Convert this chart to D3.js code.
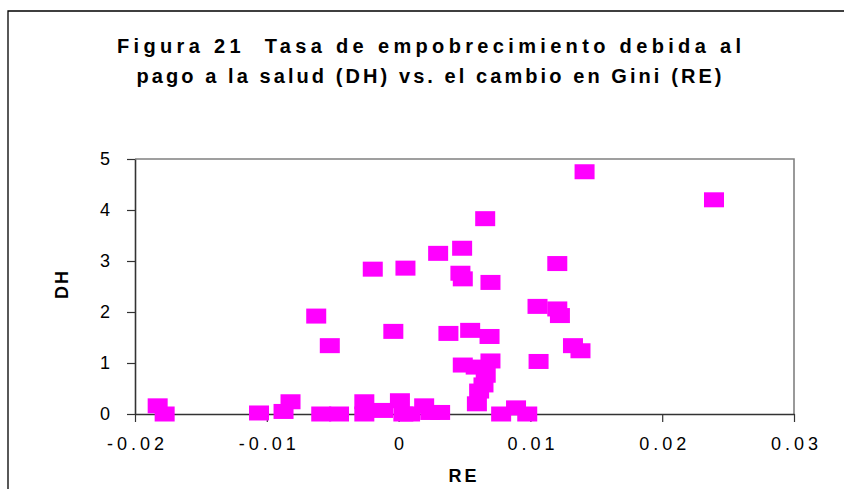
<!DOCTYPE html>
<html>
<head>
<meta charset="utf-8">
<script src="https://cdn.jsdelivr.net/npm/d3@7"></script>
<style>
	body { margin: 0; background: #fff; }
	svg { display: block; font-family: "Liberation Sans", Arial, sans-serif; }
</style>
</head>
<body>
<div id="chart"></div>
<script>
// RE (cambio en Gini) and DH (tasa de empobrecimiento)
let reValues = [
	-0.01828, -0.01775, -0.01059, -0.00873, -0.0082, -0.00625, -0.00522, -0.00587,
	-0.00452, -0.0026, -0.0026, -0.00196, -0.00118, -0.0004, 0.0001, 0.00036,
	0.00087, 0.00052, 0.00194, 0.0024, 0.00315, 0.003, 0.00378, 0.00482,
	0.00469, 0.00487, 0.00657, 0.00697, 0.00543, 0.0069, 0.00487, 0.00697,
	0.00585, 0.00661, 0.00644, 0.00611, 0.00594, 0.00778, 0.00891, 0.00976,
	0.01204, 0.01054, 0.01204, 0.01224, 0.01323, 0.0138, 0.01062, 0.01411, 0.02393
];
let dhValues = [
	0.16, 0.0, 0.02, 0.05, 0.24, 1.92, 1.34, 0.0,
	0.0, 0.24, 0.0, 2.84, 0.07, 1.62, 0.26, 0.0,
	0.0, 2.86, 0.16, 0.03, 0.03, 3.15, 1.58, 3.25,
	2.76, 2.65, 3.83, 2.58, 1.64, 1.52, 0.96, 1.04,
	0.92, 0.76, 0.57, 0.45, 0.2, 0.0, 0.12, 0.0,
	2.95, 2.11, 2.06, 1.93, 1.34, 1.24, 1.03, 4.75, 4.20
];
let xTicks = [-0.02, -0.01, 0, 0.01, 0.02, 0.03];
let xTickLabels = ['-0.02', '-0.01', '0', '0.01', '0.02', '0.03'];
let yTicks = [0, 1, 2, 3, 4, 5];
let titleLines = [
	'Figura 21  Tasa de empobrecimiento debida al',
	'pago a la salud (DH) vs. el cambio en Gini (RE)'
];
let xTitle = 'RE';
let yTitle = 'DH';

let width = 844;
let height = 489;
let plot = {left: 135, right: 794, top: 159, bottom: 414};
let markW = 20;
let markH = 15;

let points = reValues.map((re, i) => ({re: re, dh: dhValues[i]}));

let xScale = d3.scaleLinear()
		.domain([-0.02, 0.03])
		.range([plot.left, plot.right]);

let yScale = d3.scaleLinear()
		.domain([0, 5])
		.range([plot.bottom, plot.top]);

let svg = d3.select('#chart')
		.append('svg')
		.attr('width', width)
		.attr('height', height);

svg.append('rect')
		.attr('width', width)
		.attr('height', height)
		.attr('fill', '#fff');

// chart area frame (runs off the right and bottom of the picture)
svg.append('path')
		.attr('d', `M8,${height + 5} L8,11 L${width + 5},11`)
		.attr('fill', 'none')
		.attr('stroke', '#000')
		.attr('stroke-width', 1.3);

// title, stretched to the width it has in the figure
let titleWidths = [624, 585];
svg.append('g')
		.selectAll('text')
		.data(titleLines)
		.enter()
		.append('text')
		.attr('x', 429)
		.attr('y', (d, i) => 53 + i * 30)
		.attr('text-anchor', 'middle')
		.attr('textLength', (d, i) => titleWidths[i])
		.attr('lengthAdjust', 'spacing')
		.style('white-space', 'pre')
		.style('font-size', '20px')
		.style('font-weight', 'bold')
		.text(d => d);

// plot area border: grey top and right
svg.append('path')
		.attr('d', `M${plot.left},${plot.top} L${plot.right},${plot.top} L${plot.right},${plot.bottom}`)
		.attr('fill', 'none')
		.attr('stroke', '#808080')
		.attr('stroke-width', 1.6);

// axes
let xAxis = d3.axisBottom(xScale)
		.tickValues(xTicks)
		.tickFormat((d, i) => xTickLabels[i])
		.tickSize(8)
		.tickSizeOuter(0)
		.tickPadding(15);

let yAxis = d3.axisLeft(yScale)
		.tickValues(yTicks)
		.tickFormat(d3.format('d'))
		.tickSize(8)
		.tickSizeOuter(0)
		.tickPadding(17);

let gx = svg.append('g')
		.attr('transform', `translate(0,${plot.bottom})`)
		.call(xAxis);

let gy = svg.append('g')
		.attr('transform', `translate(${plot.left},0)`)
		.call(yAxis);

[gx, gy].forEach(function(g) {
	g.select('.domain')
			.attr('stroke', '#333')
			.attr('stroke-width', 1.6);
	g.selectAll('.tick line')
			.attr('stroke', '#333')
			.attr('stroke-width', 1.2);
	g.selectAll('.tick text')
			.attr('fill', '#000')
			.style('font-family', '"Liberation Sans", Arial, sans-serif')
			.style('font-size', '18px');
});

gx.selectAll('.tick text')
		.style('letter-spacing', '4px')
		.attr('dx', '2px');

// axis titles
svg.append('text')
		.attr('x', 464)
		.attr('y', 482)
		.attr('text-anchor', 'middle')
		.style('font-size', '18px')
		.style('font-weight', 'bold')
		.style('letter-spacing', '3px')
		.text(xTitle);

svg.append('text')
		.attr('transform', 'translate(68,284) rotate(-90)')
		.attr('text-anchor', 'middle')
		.style('font-size', '18px')
		.style('font-weight', 'bold')
		.style('letter-spacing', '2px')
		.text(yTitle);

// markers: magenta squares
svg.append('g')
		.selectAll('rect')
		.data(points)
		.enter()
		.append('rect')
		.attr('x', d => xScale(d.re) - markW / 2)
		.attr('y', d => yScale(d.dh) - markH / 2)
		.attr('width', markW)
		.attr('height', markH)
		.attr('fill', '#ff00ff');
</script>
</body>
</html>
